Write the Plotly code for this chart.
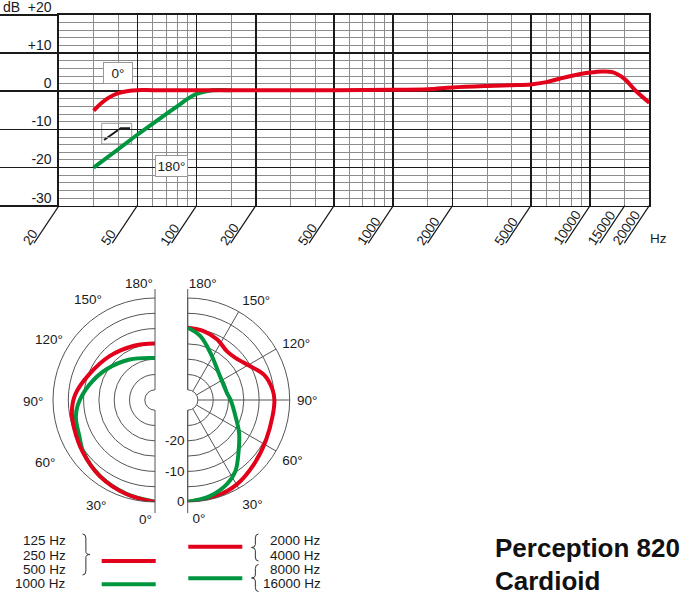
import math
import plotly.graph_objects as go

W, H = 700, 612
RED = "#e2001a"
GREEN = "#00963f"
BLACK = "#1a1a1a"
GRAY = "#8c8c8c"
PGRID = "#555555"
FONT = "Liberation Sans, Arial, Helvetica, sans-serif"

# ---------------- frequency response data ----------------
freq_0deg = [30, 33, 36, 40, 45, 50, 60, 100, 200, 500, 1000, 1500, 2000, 3000,
             4000, 5000, 6000, 7000, 8000, 10000, 11500, 13000, 15000, 17000, 20000]
db_0deg = [-5.1, -3.0, -1.6, -0.5, 0.1, 0.3, 0.3, 0.3, 0.3, 0.3, 0.4, 0.5, 1.0, 1.4,
           1.6, 1.8, 2.4, 3.3, 4.0, 4.9, 5.2, 5.0, 3.2, 0.2, -3.0]
freq_180deg = [30, 40, 50, 60, 70, 80, 90, 100, 110, 120, 150]
db_180deg = [-20.0, -15.2, -11.4, -8.5, -6.0, -3.9, -2.0, -0.7, -0.1, 0.3, 0.3]

x_major = [20, 50, 100, 200, 500, 1000, 2000, 5000, 10000, 20000]
x_minor = [30, 40, 60, 70, 80, 90, 150, 300, 400, 600, 700, 800, 900, 1500,
           3000, 4000, 6000, 7000, 8000, 9000, 15000]
x_labels = [20, 50, 100, 200, 500, 1000, 2000, 5000, 10000, 15000, 20000]
y_major = [-30, -20, -10, 0, 10, 20]
y_labels = ["-30", "-20", "-10", "0", "+10", "+20"]

# ---------------- polar data ----------------
theta_low_red = [0, 17, 36, 54, 70, 82, 94, 111, 134, 158, 180]
r_low_red = [0, -1.2, -2.6, -4.2, -5.3, -5.9, -7.2, -10.2, -12.7, -14.3, -14.9]
theta_low_green = [0, 17, 36, 54, 65, 77, 86, 103, 122, 148, 180]
r_low_green = [-0.1, -1.3, -2.7, -4.4, -6.0, -6.8, -8.0, -11.3, -14.5, -17.7, -19.6]

theta_high_red = [0, 17, 30, 46, 63, 79, 90, 97, 108, 118, 131, 141, 154, 167, 180]
r_high_red = [0, -0.6, -1.4, -3.2, -4.6, -5.1, -5.0, -5.4, -7.0, -10.0, -12.5, -12.9,
              -11.3, -10.2, -9.7]
theta_high_green = [0, 13, 25, 34, 45, 57, 71, 90, 100, 131, 154, 169, 180]
r_high_green = [0, -1.1, -3.0, -5.4, -9.8, -13.3, -16.8, -19.3, -20.3, -19.9, -16.3,
                -12.0, -9.7]

polar_angles = [0, 30, 60, 90, 120, 150, 180]
polar_angle_labels = ["0°", "30°", "60°", "90°", "120°", "150°", "180°"]
polar_rings = [-25, -20, -15, -10, -5, 0]
polar_ring_labels = ["", "-20", "", "-10", "", "0"]

legend_left = ["125 Hz", "250 Hz", "500 Hz", "1000 Hz"]
legend_right = ["2000 Hz", "4000 Hz", "8000 Hz", "16000 Hz"]

# label positions (page pixels) of the angle scale of the left half-diagram
left_angle_label_pos = [(145, 519), (96, 506), (45, 462.5), (32.5, 401),
                        (49, 339), (88, 299), (139, 283.5)]

NB = "\u00a0"


def px(x):
    return x / W


def py(y):
    return 1 - y / H


def mirror(vals):
    # left half-plot: angles measured the other way round
    return [-v for v in vals]


fig = go.Figure()

fig.add_trace(go.Scatter(x=freq_180deg, y=db_180deg, mode="lines",
                         line=dict(color=GREEN, width=4, shape="spline"),
                         hoverinfo="skip", showlegend=False))
fig.add_trace(go.Scatter(x=freq_0deg, y=db_0deg, mode="lines",
                         line=dict(color=RED, width=4, shape="spline"),
                         hoverinfo="skip", showlegend=False))

fig.add_trace(go.Scatterpolar(r=r_low_green, theta=mirror(theta_low_green), mode="lines",
                              line=dict(color=GREEN, width=4, shape="spline"),
                              subplot="polar", showlegend=False, hoverinfo="skip"))
fig.add_trace(go.Scatterpolar(r=r_low_red, theta=mirror(theta_low_red), mode="lines",
                              line=dict(color=RED, width=4, shape="spline"),
                              subplot="polar", showlegend=False, hoverinfo="skip"))
fig.add_trace(go.Scatterpolar(r=r_high_red, theta=theta_high_red, mode="lines",
                              line=dict(color=RED, width=4, shape="spline"),
                              subplot="polar2", showlegend=False, hoverinfo="skip"))
fig.add_trace(go.Scatterpolar(r=r_high_green, theta=theta_high_green, mode="lines",
                              line=dict(color=GREEN, width=4, shape="spline"),
                              subplot="polar2", showlegend=False, hoverinfo="skip"))

shapes = []
annotations = []

# slanted tick marks and rotated labels below the frequency axis
for f in x_labels:
    annotations.append(dict(x=math.log10(f), y=-30, xref="x", yref="y", text="",
                            showarrow=True, arrowhead=0, arrowwidth=1.2,
                            arrowcolor=BLACK, ax=-26, ay=39, standoff=0,
                            startstandoff=0))
    annotations.append(dict(x=math.log10(f), y=-30, xref="x", yref="y",
                            text=str(f), showarrow=False, textangle=-56,
                            xanchor="left", yanchor="bottom", xshift=-42, yshift=-45,
                            font=dict(size=13.5, color=BLACK, family=FONT)))

annotations.append(dict(x=px(1), y=py(7.5), xref="paper", yref="paper", text="dB",
                        showarrow=False, xanchor="left", yanchor="middle",
                        font=dict(size=14, color=BLACK, family=FONT)))
annotations.append(dict(x=px(648), y=py(239), xref="paper", yref="paper", text="Hz",
                        showarrow=False, xanchor="left", yanchor="middle",
                        font=dict(size=13.5, color=BLACK, family=FONT)))

# label boxes
annotations.append(dict(x=px(118.3), y=py(72.5), xref="paper", yref="paper", text="0°",
                        showarrow=False, bgcolor="white", bordercolor="#999999",
                        xanchor="center", yanchor="middle",
                        borderwidth=1, borderpad=0, width=28, height=20,
                        font=dict(size=13.5, color=BLACK, family=FONT)))
annotations.append(dict(x=px(171.7), y=py(166), xref="paper", yref="paper", text="180°",
                        showarrow=False, bgcolor="white", bordercolor="#999999",
                        xanchor="center", yanchor="middle",
                        borderwidth=1, borderpad=0, width=31, height=20,
                        font=dict(size=13.5, color=BLACK, family=FONT)))

# high-pass icon
shapes.append(dict(type="rect", xref="paper", yref="paper", x0=px(101.7), x1=px(131.7),
                   y0=py(144), y1=py(123.3), fillcolor="white",
                   line=dict(color="#999999", width=1), layer="between"))
shapes.append(dict(type="path", xref="paper", yref="paper",
                   path=f"M{px(104)},{py(140)} L{px(120.7)},{py(128.3)} L{px(130)},{py(128.3)}",
                   line=dict(color=BLACK, width=2), layer="between"))

# polar centre line extensions
for cx in (155, 187.7):
    shapes.append(dict(type="line", xref="paper", yref="paper", x0=px(cx), x1=px(cx),
                       y0=py(289), y1=py(298), line=dict(color=PGRID, width=1)))
    shapes.append(dict(type="line", xref="paper", yref="paper", x0=px(cx), x1=px(cx),
                       y0=py(502), y1=py(513), line=dict(color=PGRID, width=1)))

# angle labels of the left half-diagram
for (lx, ly), t in zip(left_angle_label_pos, polar_angle_labels):
    annotations.append(dict(x=px(lx), y=py(ly), xref="paper", yref="paper", text=t,
                            showarrow=False, xanchor="center", yanchor="middle",
                            font=dict(size=13.5, color=BLACK, family=FONT)))

# legend swatches
for (x0, x1, yy, col) in [(101.7, 155.7, 561, RED), (101.7, 155.7, 584.3, GREEN),
                          (188.3, 242.3, 546.7, RED), (188.3, 242.3, 578.3, GREEN)]:
    shapes.append(dict(type="line", xref="paper", yref="paper", x0=px(x0), x1=px(x1),
                       y0=py(yy), y1=py(yy), line=dict(color=col, width=4)))

for i, t in enumerate(legend_left):
    annotations.append(dict(x=px(67.7), y=py(540.7 + i * 14.4), xref="paper", yref="paper",
                            text=t, showarrow=False, xanchor="right", yanchor="middle",
                            font=dict(size=13.5, color=BLACK, family=FONT)))
for i, t in enumerate(legend_right):
    annotations.append(dict(x=px(323.3), y=py(540.7 + i * 14.4), xref="paper", yref="paper",
                            text=t, showarrow=False, xanchor="right", yanchor="middle",
                            font=dict(size=13.5, color=BLACK, family=FONT)))


def brace(xb, ya, yb, tip_dx):
    ym = (ya + yb) / 2
    xs = xb + tip_dx * 0.45
    xt = xb + tip_dx
    pts = (f"M{px(xb)},{py(ya)} Q{px(xs)},{py(ya)} {px(xs)},{py(ya + 4)} "
           f"L{px(xs)},{py(ym - 3)} Q{px(xs)},{py(ym)} {px(xt)},{py(ym)} "
           f"Q{px(xs)},{py(ym)} {px(xs)},{py(ym + 3)} "
           f"L{px(xs)},{py(yb - 4)} Q{px(xs)},{py(yb)} {px(xb)},{py(yb)}")
    return dict(type="path", xref="paper", yref="paper", path=pts,
                line=dict(color="#333333", width=1))


shapes.append(brace(82.5, 534, 575, 7.5))
shapes.append(brace(258.5, 534, 561, -7))
shapes.append(brace(258.5, 564.5, 591.5, -7))

annotations.append(dict(x=px(493), y=py(548), xref="paper", yref="paper",
                        text="<b>Perception 820</b>", showarrow=False, xanchor="left",
                        yanchor="middle", font=dict(size=26, color="#111111", family=FONT)))
annotations.append(dict(x=px(493), y=py(581), xref="paper", yref="paper",
                        text="<b>Cardioid</b>", showarrow=False, xanchor="left",
                        yanchor="middle", font=dict(size=26, color="#111111", family=FONT)))


def polar_layout(dom_x, sector, labels_on, left):
    ticktext = list(polar_angle_labels)
    if left:
        tickvals = mirror(polar_angles)
    else:
        tickvals = list(polar_angles)
        ticktext[0] = NB * 6 + ticktext[0]
        ticktext[-1] = NB * 8 + ticktext[-1]
    return dict(
        domain=dict(x=dom_x, y=[py(502), py(298)]),
        sector=sector, hole=0.1, bgcolor="rgba(0,0,0,0)",
        angularaxis=dict(rotation=270, direction="counterclockwise", tickmode="array",
                         tickvals=tickvals, ticktext=ticktext,
                         ticks="outside", ticklen=4, tickcolor="rgba(0,0,0,0)",
                         showline=True, linecolor=PGRID, linewidth=1,
                         gridcolor=PGRID, gridwidth=1, showticklabels=not left,
                         tickfont=dict(size=13.5, color=BLACK, family=FONT)),
        radialaxis=dict(range=[-30, 0], tickmode="array", tickvals=polar_rings,
                        ticktext=polar_ring_labels, showticklabels=labels_on,
                        ticks="", showline=False, gridcolor=PGRID, gridwidth=1,
                        side="clockwise", tickangle=-90,
                        tickfont=dict(size=13.5, color=BLACK, family=FONT)),
    )


fig.update_layout(
    width=W, height=H, margin=dict(l=0, r=0, t=0, b=0, autoexpand=False),
    paper_bgcolor="white", plot_bgcolor="white", showlegend=False,
    font=dict(family=FONT, size=13.5, color=BLACK),
    xaxis=dict(type="log", range=[math.log10(20), math.log10(20000)],
               domain=[px(59), px(649.3)], tickmode="array", tickvals=x_major,
               showticklabels=False, ticks="", showgrid=True, gridcolor=BLACK,
               gridwidth=1.6, zeroline=False, showline=True, mirror=True,
               linecolor=BLACK, linewidth=1.6, automargin=False,
               minor=dict(tickmode="array", tickvals=x_minor, showgrid=True,
                          gridcolor=GRAY, gridwidth=1, ticks="")),
    yaxis=dict(range=[-30, 20], domain=[py(205.7), py(15)], tickmode="array",
               tickvals=y_major, ticktext=y_labels, ticks="outside", ticklen=59,
               tickwidth=1.6, tickcolor=BLACK, showgrid=True,
               gridcolor=BLACK, gridwidth=1.6, zeroline=False, showline=True,
               mirror=True, linecolor=BLACK, linewidth=1.6, automargin=False,
               ticklabelshift=-8, ticklabelstandoff=-56, ticklabeloverflow="allow",
               tickfont=dict(size=14, color=BLACK, family=FONT),
               minor=dict(dtick=2, showgrid=True, gridcolor=GRAY, gridwidth=1, ticks="")),
    polar=polar_layout([px(53), px(155)], [90, 270], False, True),
    polar2=polar_layout([px(187.7), px(289.7)], [-90, 90], True, False),
    shapes=shapes, annotations=annotations,
)

fig.write_html("out.html", config=dict(displayModeBar=False, staticPlot=True),
               post_script=("document.body.style.margin='0px';"
                            "document.body.style.overflow='hidden';"
                            "document.documentElement.style.overflow='hidden';"))
